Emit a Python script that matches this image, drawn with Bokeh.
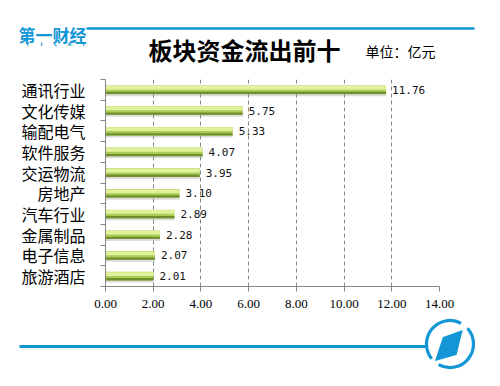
from bokeh.plotting import figure
from bokeh.layouts import column
from bokeh.models import Range1d, FixedTicker, ColumnDataSource, PrintfTickFormatter
from bokeh.core.properties import value
from bokeh.embed import file_html
from bokeh.resources import INLINE

# ---- data ----
categories = ["通讯行业", "文化传媒", "输配电气", "软件服务", "交运物流",
              "房地产", "汽车行业", "金属制品", "电子信息", "旅游酒店"]
outflows = [11.76, 5.75, 5.33, 4.07, 3.95, 3.10, 2.89, 2.28, 2.07, 2.01]
x_ticks = [0, 2, 4, 6, 8, 10, 12, 14]
title_text = "板块资金流出前十"
unit_text = "单位：亿元"
logo_text = "第一财经"
logo_sub = ["Y", "I", "C", "A", "I"]

BLUE = "#1296d6"
GRAY = "#868686"
W = 492
CJK = "Noto Sans CJK SC"

# ---- header ----
HH = 68
hdr = figure(width=W, height=HH, x_range=Range1d(0, W), y_range=Range1d(HH, 0),
             output_backend="svg", toolbar_location=None, min_border=0,
             x_axis_type=None, y_axis_type=None, outline_line_color=None,
             frame_align=False)
hdr.line([86, 474], [28, 28], line_width=2.5, line_color=BLUE)
hdr.text(x=[18], y=[34], text=[logo_text], text_font=value(CJK), text_font_size="17px",
         text_font_style="bold", text_color=BLUE, text_baseline="middle", text_align="left")
hdr.text(x=[27, 41, 55, 69, 83], y=[43] * 5, text=logo_sub, text_font=value("DejaVu Sans"),
         text_font_size="5px", text_font_style="bold", text_color=BLUE,
         text_baseline="middle", text_align="center")
hdr.text(x=[148], y=[48.5], text=[title_text], text_font=value(CJK), text_font_size="24px",
         text_font_style="bold", text_color="#000000", text_baseline="middle", text_align="left")
hdr.text(x=[365], y=[50.5], text=[unit_text], text_font=value(CJK), text_font_size="14px",
         text_color="#000000", text_baseline="middle", text_align="left")

# ---- main chart ----
n = len(categories)
ys = list(range(n))
src = ColumnDataSource(dict(
    y=ys,
    y_sh=[i + 0.08 for i in ys],
    y_hi=[i - 0.10 for i in ys],
    y_lo=[i + 0.15 for i in ys],
    v=outflows,
    lab=[f"{v:.2f}" for v in outflows],
))

MH = 248
p = figure(width=W, height=MH, x_range=Range1d(0, 14), y_range=Range1d(n - 0.5, -0.5),
           output_backend="svg", toolbar_location=None,
           min_border_left=105, min_border_right=W - 439, min_border_top=11, min_border_bottom=30,
           outline_line_color=None, frame_align=False)

p.hbar(y="y_sh", left=0, right="v", height=0.45, source=src,
       fill_color="#9a9a9a", fill_alpha=0.35, line_color=None)
p.hbar(y="y", left=0, right="v", height=0.42, source=src,
       fill_color="#aacb56", line_color=None)
p.hbar(y="y_lo", left=0, right="v", height=0.11, source=src,
       fill_color="#728f2f", line_color=None)
p.hbar(y="y_hi", left=0, right="v", height=0.18, source=src,
       fill_color="#e0f39c", line_color=None)
p.text(x="v", y="y", text="lab", source=src, x_offset=6, text_baseline="middle",
       text_align="left", text_font=value("DejaVu Sans Mono"), text_font_size="11px",
       text_color="#111111")

p.xaxis.ticker = FixedTicker(ticks=x_ticks)
p.xaxis.formatter = PrintfTickFormatter(format="%.2f")
p.xaxis.axis_line_color = GRAY
p.xaxis.major_tick_line_color = GRAY
p.xaxis.major_tick_out = 5
p.xaxis.major_tick_in = 0
p.xaxis.minor_tick_line_color = None
p.xaxis.major_label_standoff = 8
p.xaxis.major_label_text_font = "Liberation Serif"
p.xaxis.major_label_text_font_size = "13px"
p.xaxis.major_label_text_color = "#000000"

p.yaxis.ticker = FixedTicker(ticks=ys, minor_ticks=[i - 0.5 for i in range(n + 1)])
p.yaxis.major_label_overrides = {i: c for i, c in enumerate(categories)}
p.yaxis.axis_line_color = GRAY
p.yaxis.major_tick_line_color = None
p.yaxis.major_tick_out = 0
p.yaxis.major_tick_in = 0
p.yaxis.minor_tick_line_color = GRAY
p.yaxis.minor_tick_out = 5
p.yaxis.minor_tick_in = 0
p.yaxis.major_label_standoff = 15
p.yaxis.major_label_text_font = CJK
p.yaxis.major_label_text_font_size = "16px"
p.yaxis.major_label_text_color = "#000000"

p.ygrid.visible = False
p.xgrid.grid_line_color = GRAY
p.xgrid.grid_line_dash = "4 3"
p.xgrid.grid_line_width = 1

# ---- footer ----
FH = 70
ftr = figure(width=W, height=FH, x_range=Range1d(0, W), y_range=Range1d(0, FH),
             output_backend="svg", toolbar_location=None, min_border=0,
             x_axis_type=None, y_axis_type=None, outline_line_color=None,
             frame_align=False)
ftr.line([19, 426], [40, 40], line_width=3, line_color=BLUE)
ftr.arc(x=[449.5], y=[42.5], radius=23.5, start_angle=62, end_angle=219,
        start_angle_units="deg", end_angle_units="deg", line_width=3.2, line_color=BLUE)
ftr.arc(x=[449.5], y=[42.5], radius=23.5, start_angle=241, end_angle=402,
        start_angle_units="deg", end_angle_units="deg", line_width=3.2, line_color=BLUE)
ftr.patch(x=[441.7, 463.3, 456.7, 433.3], y=[50, 57.7, 31, 24.3],
          fill_color=BLUE, line_color="white", line_width=1.5)

layout = column(hdr, p, ftr, spacing=0)
open("out.html", "w").write(file_html(layout, INLINE))
